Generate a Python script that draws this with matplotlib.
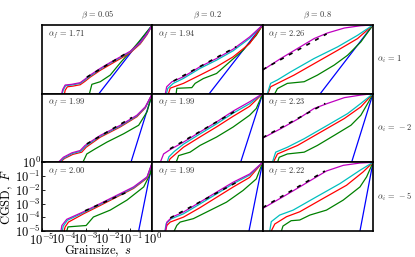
import matplotlib
matplotlib.use("Agg")
import matplotlib.pyplot as plt
import numpy as np

plt.rcParams['mathtext.fontset'] = 'cm'
plt.rcParams['font.family'] = ['DejaVu Serif']

betas = ["0.05", "0.2", "0.8"]
alpha_i = ["1", "-2", "-5"]
alpha_f = [["1.71", "1.94", "2.26"],
           ["1.99", "1.99", "2.23"],
           ["2.00", "1.99", "2.22"]]

# each curve: (log10 s, log10 F)
panel_00 = {
    'b': ([-2.42, 0], [-5, 0]),
    'g': ([-2.85, -2.74, -2.36, -1.91, -1.45, -1.0, -0.6, -0.3, 0], [-5, -4.32, -4.13, -3.65, -2.75, -1.95, -1.2, -0.6, 0]),
    'r': ([-3.98, -3.95, -3.85, -3.6, -3.27, -3.05, -2.82, -2.36, -1.91, -1.45, -1.0, -0.55, -0.24, 0], [-5, -4.75, -4.5, -4.45, -4.35, -4.1, -3.8, -3.3, -2.88, -2.45, -2.02, -1.38, -0.7, 0]),
    'c': ([-4.08, -4.04, -3.93, -3.65, -3.27, -3.05, -2.82, -2.36, -1.91, -1.45, -1.0, -0.55, -0.24, 0], [-5, -4.75, -4.42, -4.37, -4.25, -4.0, -3.72, -3.22, -2.78, -2.37, -1.95, -1.32, -0.66, 0]),
    'm': ([-4.11, -4.06, -3.95, -3.65, -3.27, -3.05, -2.82, -2.36, -1.91, -1.45, -1.0, -0.55, -0.24, 0], [-5, -4.69, -4.37, -4.32, -4.2, -3.94, -3.65, -3.16, -2.73, -2.32, -1.91, -1.28, -0.63, 0]),
    'k': ([-2.97, -1.08], [-3.8, -1.96]),
}
panel_01 = {
    'b': ([-2.42, 0], [-5, 0]),
    'g': ([-3.92, -3.89, -3.21, -3.06, -2.69, -2.09, -1.49, -0.89, -0.29, 0], [-5, -4.61, -4.56, -4.25, -3.9, -3.53, -2.68, -1.84, -0.75, 0]),
    'r': ([-4.27, -4.19, -3.59, -2.84, -2.09, -1.34, -0.59, 0], [-5, -4.6, -4.25, -3.65, -3.04, -2.32, -1.35, 0]),
    'c': ([-4.36, -4.3, -4.05, -3.59, -2.84, -2.09, -1.34, -0.59, 0], [-5, -4.62, -4.25, -3.89, -3.16, -2.56, -1.88, -0.97, 0]),
    'm': ([-4.41, -4.35, -4.11, -3.59, -2.84, -2.09, -1.34, -0.59, 0], [-5, -4.5, -4.13, -3.77, -3.04, -2.44, -1.76, -0.87, 0]),
    'k': ([-4.04, -1.19], [-4.08, -1.58]),
}
panel_02 = {
    'b': ([-2.39, 0], [-5, 0]),
    'g': ([-4.45, -4.33, -3.88, -3.12, -2.52, -1.76, -1.15, -0.55, 0], [-5, -4.63, -4.25, -4.13, -3.65, -2.92, -2.2, -1.23, 0]),
    'r': ([-4.76, -4.64, -4.33, -3.58, -2.52, -1.6, -0.7, 0], [-5, -4.5, -4.25, -3.65, -2.68, -1.84, -0.99, 0]),
    'c': ([-4.79, -4.64, -4.33, -3.73, -2.67, -1.6, -0.7, 0], [-5, -4.25, -4.0, -3.41, -2.44, -1.59, -0.75, 0]),
    'm': ([-5, -4.18, -3.42, -2.67, -2.06, -1.3, -0.55, 0], [-3.29, -2.44, -1.71, -0.99, -0.58, -0.22, -0.05, 0]),
    'k': ([-5, -2.1], [-3.25, -0.65]),
}
panel_10 = {
    'b': ([-0.97, 0], [-5, 0]),
    'g': ([-3.15, -2.97, -2.59, -2.06, -1.3, -0.62, -0.24, 0], [-5, -4.39, -4.02, -3.53, -2.92, -2.3, -1.32, 0]),
    'r': ([-4.18, -3.98, -3.6, -3.2, -3.0, -2.36, -1.45, -0.7, -0.32, 0], [-5, -4.72, -4.42, -4.26, -3.9, -3.17, -2.42, -1.68, -1.04, 0]),
    'c': ([-4.22, -4.0, -3.63, -3.25, -3.03, -2.36, -1.45, -0.7, -0.32, 0], [-5, -4.68, -4.36, -4.2, -3.83, -3.1, -2.36, -1.62, -1.0, 0]),
    'm': ([-4.26, -4.03, -3.65, -3.27, -3.05, -2.36, -1.45, -0.7, -0.32, 0], [-5, -4.63, -4.31, -4.14, -3.77, -3.04, -2.3, -1.57, -0.96, 0]),
    'k': ([-2.97, -0.92], [-3.66, -1.73]),
}
panel_11 = {
    'b': ([-1.0, 0], [-5, 0]),
    'g': ([-3.92, -3.81, -3.29, -2.84, -2.09, -1.34, -0.59, -0.29, 0], [-5, -4.51, -4.26, -3.77, -3.16, -2.43, -1.57, -1.08, 0]),
    'r': ([-4.27, -4.2, -3.95, -3.59, -2.84, -2.09, -1.34, -0.59, 0], [-5, -4.75, -4.4, -3.9, -3.15, -2.42, -1.65, -0.92, 0]),
    'c': ([-4.33, -4.25, -4.0, -3.59, -2.84, -2.09, -1.34, -0.59, 0], [-5, -4.6, -4.2, -3.68, -2.93, -2.2, -1.42, -0.73, 0]),
    'm': ([-4.64, -4.49, -4.19, -3.59, -2.84, -2.09, -1.34, -0.59, 0], [-5, -4.39, -4.07, -3.53, -2.79, -2.06, -1.27, -0.59, 0]),
    'k': ([-4.2, -1.11], [-4.02, -1.15]),
}
panel_12 = {
    'b': ([-0.97, 0], [-5, 0]),
    'g': ([-4.33, -4.25, -3.88, -3.12, -2.52, -1.76, -1.0, -0.55, -0.2, 0], [-5, -4.63, -4.39, -4.26, -3.77, -3.04, -2.3, -1.57, -0.6, 0]),
    'r': ([-4.52, -4.33, -3.42, -2.36, -1.3, -0.55, 0], [-5, -4.39, -3.77, -2.79, -1.81, -0.96, 0]),
    'c': ([-4.56, -4.41, -3.88, -3.12, -2.06, -1.15, -0.55, 0], [-5, -4.26, -3.9, -3.28, -2.3, -1.45, -0.71, 0]),
    'm': ([-5, -4.18, -3.42, -2.67, -2.06, -1.3, -0.55, 0], [-3.24, -2.55, -1.86, -1.08, -0.71, -0.29, -0.1, 0]),
    'k': ([-5, -2.16], [-3.2, -0.71]),
}
panel_20 = {
    'b': ([-0.62, 0], [-5, 0]),
    'g': ([-3.88, -3.82, -3.0, -2.67, -1.91, -1.15, -0.39, -0.09, 0], [-5, -4.7, -4.6, -3.98, -3.48, -2.75, -1.79, -0.82, 0]),
    'r': ([-4.0, -3.95, -3.8, -3.12, -2.36, -1.61, -0.85, -0.24, 0], [-5, -4.7, -4.35, -3.75, -3.14, -2.52, -1.9, -1.15, 0]),
    'c': ([-4.08, -4.04, -3.85, -3.12, -2.36, -1.61, -0.85, -0.24, 0], [-5, -4.65, -4.22, -3.66, -3.06, -2.46, -1.85, -1.1, 0]),
    'm': ([-4.14, -4.1, -3.88, -3.12, -2.36, -1.61, -0.85, -0.24, 0], [-5, -4.6, -4.15, -3.6, -3.0, -2.4, -1.79, -1.06, 0]),
    'k': ([-3.05, -1.15], [-3.53, -2.17]),
}
panel_21 = {
    'b': ([-0.62, 0], [-5, 0]),
    'g': ([-4.01, -3.89, -3.74, -3.14, -2.39, -1.64, -0.89, -0.29, 0], [-5, -4.59, -4.35, -4.1, -3.5, -2.9, -2.05, -1.21, 0]),
    'r': ([-4.4, -4.34, -4.19, -3.59, -2.84, -2.09, -1.34, -0.59, 0], [-5, -4.59, -4.35, -3.99, -3.3, -2.55, -1.8, -1.1, 0]),
    'c': ([-4.43, -4.37, -4.15, -3.59, -2.84, -2.09, -1.34, -0.59, 0], [-5, -4.45, -4.12, -3.75, -3.03, -2.3, -1.56, -0.93, 0]),
    'm': ([-4.41, -4.34, -4.11, -3.59, -2.84, -2.09, -1.34, -0.59, 0], [-5, -4.35, -3.99, -3.62, -2.9, -2.17, -1.45, -0.85, 0]),
    'k': ([-4.19, -1.04], [-4.05, -1.33]),
}
panel_22 = {
    'b': ([-0.59, 0], [-5, 0]),
    'g': ([-4.15, -4.08, -3.71, -3.32, -2.86, -2.11, -1.35, -0.59, -0.29, 0], [-5, -4.64, -4.25, -4.2, -3.84, -3.48, -2.75, -1.79, -1.06, 0]),
    'r': ([-4.61, -4.45, -3.92, -3.32, -2.26, -1.2, -0.45, 0], [-5, -4.49, -3.96, -3.6, -2.63, -1.67, -0.7, 0]),
    'c': ([-4.68, -4.61, -4.23, -3.62, -2.56, -1.5, -0.59, 0], [-5, -4.32, -3.84, -3.48, -2.51, -1.55, -0.58, 0]),
    'm': ([-5, -4.08, -3.32, -2.56, -2.11, -1.35, -0.59, 0], [-3.36, -2.51, -1.79, -1.06, -0.63, -0.22, -0.05, 0]),
    'k': ([-5, -2.18], [-3.3, -0.63]),
}
panels = [[panel_00, panel_01, panel_02],
          [panel_10, panel_11, panel_12],
          [panel_20, panel_21, panel_22]]

tick_vals = [1e-5, 1e-4, 1e-3, 1e-2, 1e-1, 1e0]
tick_labels = [r'$10^{-5}$', r'$10^{-4}$', r'$10^{-3}$', r'$10^{-2}$', r'$10^{-1}$', r'$10^{0}$']

fig, axes = plt.subplots(3, 3, figsize=(4.15, 2.57), dpi=100)
fig.subplots_adjust(left=42/415, right=373/415, top=1-25/257, bottom=1-231/257,
                    wspace=0, hspace=0)

for i in range(3):
    for j in range(3):
        ax = axes[i, j]
        p = panels[i][j]
        for col in ['b', 'g', 'r', 'c', 'm']:
            xs, ys = p[col]
            ax.plot(10.0**np.asarray(xs, dtype=float), 10.0**np.asarray(ys, dtype=float),
                    color=col, lw=0.9)
        kx, ky = p['k']
        ax.plot(10.0**np.asarray(kx, dtype=float), 10.0**np.asarray(ky, dtype=float),
                color='k', lw=1.2, linestyle=(0, (2.5, 3.5)))
        ax.set_xscale('log')
        ax.set_yscale('log')
        ax.set_xlim(1e-5, 1e0)
        ax.set_ylim(1e-5, 1e0)
        ax.xaxis.set_minor_locator(matplotlib.ticker.NullLocator())
        ax.yaxis.set_minor_locator(matplotlib.ticker.NullLocator())
        for s in ax.spines.values():
            s.set_linewidth(1.2)
        ax.tick_params(direction='in', length=2, width=0.6)
        if i == 2 and j == 0:
            ax.set_xticks(tick_vals)
            ax.set_xticklabels(tick_labels, fontsize=9)
            ax.set_yticks(tick_vals)
            ax.set_yticklabels(tick_labels, fontsize=9)
            ax.tick_params(pad=1)
            ax.set_xlabel(r'$\mathrm{Grainsize},\ s$', fontsize=9, labelpad=-3)
            ax.set_ylabel(r'$\mathrm{CGSD},\ F$', fontsize=9, labelpad=0)
        else:
            ax.set_xticks([])
            ax.set_yticks([])
        ax.text(0.05, 0.86, r'$\alpha_f\,=\,%s$' % alpha_f[i][j], transform=ax.transAxes,
                fontsize=6, color='#333333', va='center', ha='left')
        if i == 0:
            ax.set_title(r'$\beta\,=\,%s$' % betas[j], fontsize=6, color='#333333', pad=6)
        if j == 2:
            ax.text(1.04, 0.5, r'$\alpha_i\,=\,%s$' % alpha_i[i], transform=ax.transAxes,
                    fontsize=6, color='#333333', va='center', ha='left')

fig.savefig('out.png', dpi=100)
